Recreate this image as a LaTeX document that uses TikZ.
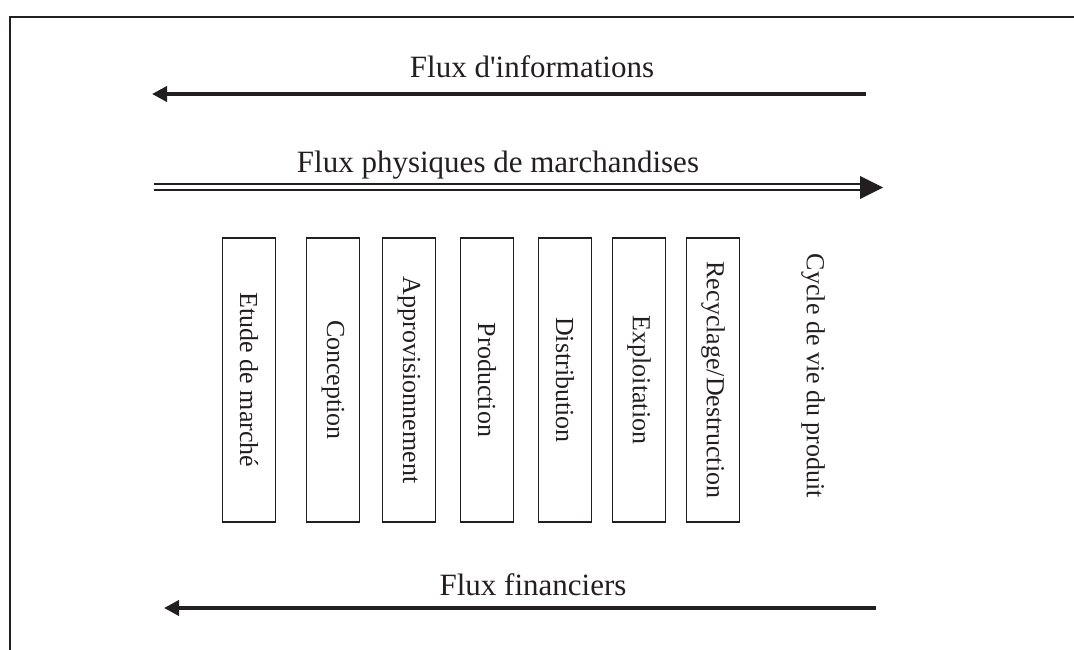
\documentclass[tikz,border=0pt]{standalone}
\usepackage{fontspec}
\setmainfont{Liberation Serif}
\usetikzlibrary{arrows.meta}
\definecolor{ink}{HTML}{231F20}
\tikzset{
  title/.style={font=\fontsize{31}{36}\selectfont, text=ink, anchor=base, inner sep=0pt},
  stage/.style={draw=ink, line width=1.6pt, rotate=-90, minimum width=284pt, minimum height=53pt,
    inner sep=0pt, font=\fontsize{26}{30}\selectfont, text=ink},
  flow/.style={draw=ink, line width=3.6pt, -{Triangle[length=15pt,width=15pt]}},
  frameline/.style={draw=ink, line width=2pt}
}
\begin{document}
\begin{tikzpicture}[x=1pt,y=-1pt]
\useasboundingbox (0,0) rectangle (1074,650);
% frame
\coordinate (fbl) at (10,651);
\coordinate (ftl) at (10,17);
\coordinate (ftr) at (1075,17);
\draw[frameline] (fbl) -- (ftl) -- (ftr);
% titles
\node[title] (tinfo) at (532,78) {Flux d\textquotesingle informations};
\node[title] (tphys) at (498,172) {Flux physiques de marchandises};
\node[title] (tfin) at (533,595) {Flux financiers};
% information flow
\coordinate (i1) at (866,94);
\coordinate (i2) at (152,94);
\draw[flow] (i1) -- (i2);
% physical flow (double)
\coordinate (p1) at (154,187);
\coordinate (p2) at (861,187);
\draw[draw=ink, line width=2pt, double=white, double distance=3.4pt] (p1) -- (p2);
\fill[ink] (860,176) -- (883,187.5) -- (860,199) -- cycle;
% financial flow
\coordinate (f1) at (876,608);
\coordinate (f2) at (164,608);
\draw[flow] (f1) -- (f2);
% stages
\node[stage] (s1) at (249,380) {Etude de marché};
\node[stage] (s2) at (333,380) {Conception};
\node[stage] (s3) at (409,380) {Approvisionnement};
\node[stage] (s4) at (487,380) {Production};
\node[stage] (s5) at (565,380) {Distribution};
\node[stage] (s6) at (639,380) {Exploitation};
\node[stage] (s7) at (713,380) {Recyclage/Destruction};
\node[rotate=-90, font=\fontsize{26}{30}\selectfont, text=ink, inner sep=0pt] (cycle) at (813,376) {Cycle de vie du produit};
\end{tikzpicture}
\end{document}
